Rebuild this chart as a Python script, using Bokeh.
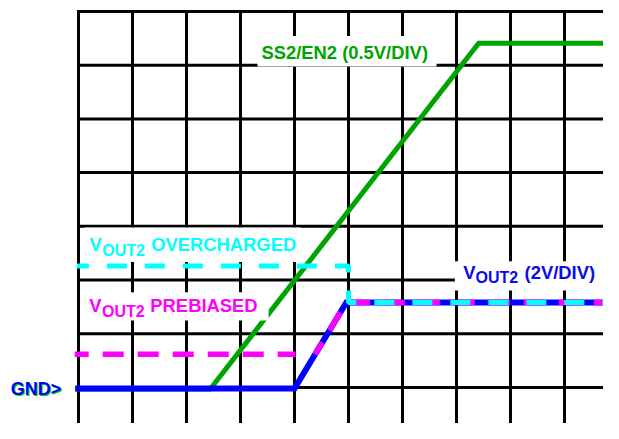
import math
from bokeh.plotting import figure
from bokeh.models import Range1d, Label, BoxAnnotation
from bokeh.embed import file_html
from bokeh.resources import INLINE

# ---- scope grid (divisions) ----
x_divs = list(range(0, 11))
y_divs = list(range(0, 8))

# ---- traces: x in time divisions, y in divisions above GND ----
ss2_x = [-0.06, 2.44, 7.41, 10.3]
ss2_y = [-0.03, -0.03, 6.41, 6.41]

vout_x = [-0.06, 4.0, 4.96, 10.3]
vout_y = [-0.02, -0.02, 1.58, 1.58]

preb_x = [-0.07, 4.02, float("nan"), 4.38, 4.96, 10.3]
preb_y = [0.616, 0.616, float("nan"), 0.616, 1.58, 1.58]

over_x = [-0.03, 5.0, 5.0, 10.3]
over_y = [2.26, 2.26, 1.58, 1.58]

# ---- labels ----
ss2_label = "SS2/EN2 (0.5V/DIV)"
v_main = "V"
v_sub = "OUT2"
over_label = "OVERCHARGED"
preb_label = "PREBIASED"
vout_label = "(2V/DIV)"
gnd_label = "GND>"

GREEN = "#00a400"
BLUE = "#0000ff"
CYAN = "#00ffff"
MAGENTA = "#ff00ff"
FONT = "Liberation Sans"

p = figure(width=603, height=423, output_backend="svg", toolbar_location=None,
           x_range=Range1d(-1.4444, 9.7222), y_range=Range1d(-0.6723, 7.2048),
           x_axis_location=None, y_axis_location=None, min_border=0,
           outline_line_color=None, background_fill_color="white",
           border_fill_color="white")
p.xgrid.visible = False
p.ygrid.visible = False

# grid lines
p.segment(x0=x_divs, x1=x_divs, y0=[-1.2] * len(x_divs), y1=[7] * len(x_divs),
          line_color="black", line_width=3, line_cap="square")
p.segment(x0=[0] * len(y_divs), x1=[10.3] * len(y_divs), y0=y_divs, y1=y_divs,
          line_color="black", line_width=3, line_cap="square")

# traces
p.line(ss2_x, ss2_y, line_color=GREEN, line_width=5, line_join="miter")
p.line(vout_x, vout_y, line_color=BLUE, line_width=6, line_join="miter")
p.line(preb_x, preb_y, line_color=MAGENTA, line_width=5.5, line_dash="21 14",
       line_dash_offset=7)
p.line(over_x, over_y, line_color=CYAN, line_width=5, line_dash="20 18",
       line_dash_offset=8)

# white label backgrounds
for l, r, t, b in [(3.315, 6.63, 6.544, 5.975),
                   (0.111, 4.111, 2.978, 2.335),
                   (0.111, 3.52, 1.773, 1.246),
                   (6.97, 9.72, 2.35, 1.804)]:
    p.add_layout(BoxAnnotation(left=l, right=r, top=t, bottom=b,
                               fill_color="white", fill_alpha=1.0,
                               line_color=None, line_alpha=0))

DY = 0.12  # baseline correction


def lab(x, y, text, color, size="18.4px"):
    p.add_layout(Label(x=x, y=y + DY, text=text, text_color=color, text_font=FONT,
                       text_font_style="bold", text_font_size=size,
                       text_baseline="alphabetic", text_align="left"))


lab(3.387, 6.12, ss2_label, GREEN)

lab(0.205, 2.536, v_main, CYAN)
lab(0.44, 2.438, v_sub, CYAN, "16px")
lab(1.345, 2.536, over_label, CYAN)

lab(0.2, 1.400, v_main, MAGENTA)
lab(0.435, 1.302, v_sub, MAGENTA, "16px")
lab(1.33, 1.400, preb_label, MAGENTA)

lab(7.124, 2.022, v_main, "#0a0aee")
lab(7.352, 1.924, v_sub, "#0a0aee", "16px")
lab(8.26, 2.022, vout_label, "#0a0aee")

lab(-1.236, -0.170, gnd_label, "#00d000", "18px")
lab(-1.254, -0.151, gnd_label, BLUE, "18px")

open("out.html", "w").write(file_html(p, INLINE))
